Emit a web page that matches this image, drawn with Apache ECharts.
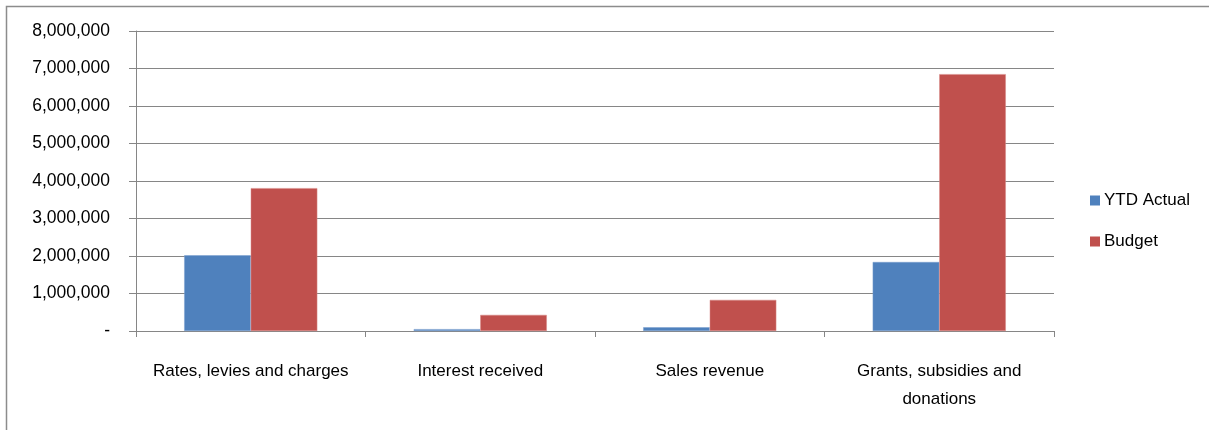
<!DOCTYPE html>
<html lang="en">
<head>
    <meta charset="UTF-8">
    <title>Revenue by source</title>
    <script src="https://cdn.jsdelivr.net/npm/echarts@6/dist/echarts.min.js"></script>
    <style>
        html, body { margin: 0; padding: 0; background: #fff; }
        #chart { width: 1209px; height: 430px; }
    </style>
</head>
<body>
<div id="chart"></div>
<script type="text/javascript">
    var categories = ['Rates, levies and charges', 'Interest received', 'Sales revenue', 'Grants, subsidies and\ndonations'];
    var ytdActual = [2020000, 50000, 100000, 1840000];
    var budget = [3810000, 430000, 830000, 6850000];
    var seriesNames = ['YTD Actual', 'Budget'];

    var gray = '#868686';
    var font = 'Liberation Sans, Arial, sans-serif';

    function fmt(v) {
        if (v === 0) return '-';
        return String(v).replace(/\B(?=(\d{3})+(?!\d))/g, ',');
    }

    var mychart = echarts.init(document.getElementById('chart'));
    mychart.setOption({
        animation: false,
        textStyle: { fontFamily: font },
        graphic: [{
            type: 'rect',
            shape: { x: 6.5, y: 6.5, width: 1400, height: 800 },
            style: { fill: 'none', stroke: '#8c8c8c', lineWidth: 1.5 },
            silent: true
        }],
        grid: { left: 136, right: 155, top: 31, bottom: 99 },
        legend: {
            orient: 'vertical',
            left: 1085,
            top: 187,
            itemWidth: 10,
            itemHeight: 10,
            itemGap: 24,
            icon: 'rect',
            itemStyle: { borderWidth: 0 },
            textStyle: { fontSize: 17, color: '#000', fontFamily: font, padding: [0, 0, 0, -1] },
            data: seriesNames
        },
        xAxis: {
            type: 'category',
            data: categories,
            axisLine: { lineStyle: { color: gray, width: 1 } },
            axisTick: { show: true, length: 6, lineStyle: { color: gray } },
            axisLabel: { color: '#000', fontSize: 17, margin: 26, lineHeight: 28, interval: 0 }
        },
        yAxis: {
            type: 'value',
            min: 0,
            max: 8000000,
            interval: 1000000,
            axisLine: { show: true, lineStyle: { color: gray, width: 1 } },
            axisTick: { show: true, length: 7, lineStyle: { color: gray } },
            splitLine: { lineStyle: { color: gray, width: 1 } },
            axisLabel: { color: '#000', fontSize: 17.5, margin: 26, formatter: fmt }
        },
        series: [{
            name: seriesNames[0],
            type: 'bar',
            data: ytdActual,
            barGap: '0%',
            barCategoryGap: '42%',
            itemStyle: { color: '#4F81BD', borderColor: '#7a9fcf', borderWidth: 0.5 }
        }, {
            name: seriesNames[1],
            type: 'bar',
            data: budget,
            itemStyle: { color: '#C0504D', borderColor: '#d98a88', borderWidth: 0.5 }
        }]
    });
</script>
</body>
</html>
